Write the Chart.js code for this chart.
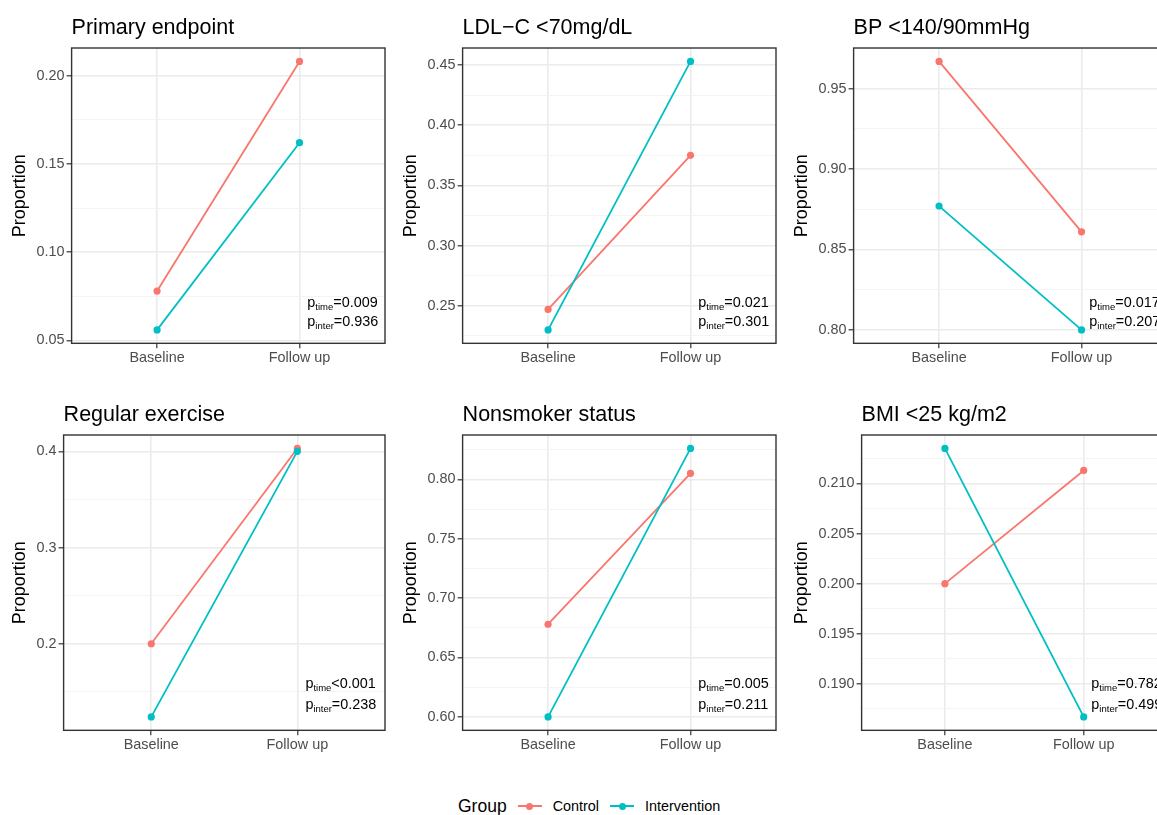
<!DOCTYPE html>
<html>
<head>
<meta charset="utf-8">
<script src="https://cdn.jsdelivr.net/npm/chart.js@4.4.1/dist/chart.umd.min.js"></script>
<style>
body { margin: 0; background: #fff; overflow: hidden; }
#wrap { position: relative; width: 1157px; height: 815px; overflow: hidden; background: #fff; }
.cell { position: absolute; width: 391px; height: 387px; }
#legend { position: absolute; left: 458px; top: 796px; height: 20px; display: flex; align-items: center;
  font-family: 'Liberation Sans', Arial, sans-serif; color: #000; white-space: nowrap; }
#legend .ttl { font-size: 17.5px; }
#legend .lab { font-size: 14.4px; }
#legend .key { position: relative; display: inline-block; width: 24px; height: 10px; margin: 0 11px; }
#legend .key i { position: absolute; left: 0; right: 0; top: 4.1px; height: 1.8px; }
#legend .key b { position: absolute; left: 8.5px; top: 1.5px; width: 7px; height: 7px; border-radius: 50%; }
</style>
</head>
<body>
<div id="wrap">
  <div id="legend"></div>
</div>
<script>
// data
var groups = ['Control', 'Intervention'];
var groupColors = ['#F8766D', '#00BFC4'];
var timepoints = ['Baseline', 'Follow up'];
var panelTitles = ['Primary endpoint', 'LDL\u2212C <70mg/dL', 'BP <140/90mmHg',
                   'Regular exercise', 'Nonsmoker status', 'BMI <25 kg/m2'];
var controlValues = [[0.078, 0.208], [0.247, 0.375], [0.967, 0.861],
                     [0.200, 0.403], [0.678, 0.805], [0.200, 0.2113]];
var interventionValues = [[0.056, 0.162], [0.230, 0.453], [0.877, 0.800],
                          [0.124, 0.400], [0.600, 0.826], [0.2135, 0.1867]];
var yTicks = [[0.05, 0.10, 0.15, 0.20],
              [0.25, 0.30, 0.35, 0.40, 0.45],
              [0.80, 0.85, 0.90, 0.95],
              [0.2, 0.3, 0.4],
              [0.60, 0.65, 0.70, 0.75, 0.80],
              [0.190, 0.195, 0.200, 0.205, 0.210]];
var tickDigits = [2, 2, 2, 1, 2, 3];
var pTime = ['=0.009', '=0.021', '=0.017', '<0.001', '=0.005', '=0.782'];
var pInter = ['=0.936', '=0.301', '=0.207', '=0.238', '=0.211', '=0.499'];

var FONT = "'Liberation Sans', Arial, sans-serif";
Chart.defaults.font.family = FONT;

var panelDecor = {
    id: 'panelDecor',
    afterDatasetsDraw: function(chart) {
        var a = chart.chartArea;
        var ctx = chart.ctx;
        ctx.save();
        ctx.strokeStyle = '#333333';
        ctx.lineWidth = 1.4;
        ctx.strokeRect(a.left, a.top, a.right - a.left, a.bottom - a.top);
        ctx.restore();
    },
    afterDraw: function(chart, args, opts) {
        var a = chart.chartArea;
        var ctx = chart.ctx;
        ctx.save();
        ctx.fillStyle = '#000';
        ctx.textBaseline = 'alphabetic';
        ctx.textAlign = 'left';
        ctx.font = '21.5px ' + FONT;
        ctx.fillText(opts.title, a.left, a.top - 14.5);

        var x = chart.scales.x.getPixelForValue(2.055);
        drawNote(ctx, x, a.bottom - opts.noteOffset[0], 'time', opts.pTime);
        drawNote(ctx, x, a.bottom - opts.noteOffset[1], 'inter', opts.pInter);
        ctx.restore();
    }
};

function drawNote(ctx, x, y, sub, rest) {
    ctx.font = '14.4px ' + FONT;
    ctx.fillText('p', x, y);
    var w = ctx.measureText('p').width;
    ctx.font = '9.5px ' + FONT;
    ctx.fillText(sub, x + w, y + 3);
    var w2 = ctx.measureText(sub).width;
    ctx.font = '14.4px ' + FONT;
    ctx.fillText(rest, x + w + w2, y);
}

function makePanel(i) {
    var col = i % 3, row = Math.floor(i / 3);
    var cell = document.createElement('div');
    cell.className = 'cell';
    cell.style.left = (col * 391) + 'px';
    cell.style.top = (row * 387) + 'px';
    var canvas = document.createElement('canvas');
    canvas.width = 391;
    canvas.height = 387;
    cell.appendChild(canvas);
    document.getElementById('wrap').appendChild(cell);

    var ctrl = controlValues[i];
    var intv = interventionValues[i];
    var all = ctrl.concat(intv);
    var lo = Math.min.apply(null, all);
    var hi = Math.max.apply(null, all);
    var pad = (hi - lo) * 0.05;
    var ymin = lo - pad, ymax = hi + pad;

    var majors = yTicks[i];
    var half = (majors[1] - majors[0]) / 2;
    var tickList = [{ value: majors[0] - half, isMajor: false }];
    for (var k = 0; k < majors.length; k++) {
        tickList.push({ value: majors[k], isMajor: true });
        tickList.push({ value: majors[k] + half, isMajor: false });
    }
    tickList = tickList.filter(function(t) { return t.value >= ymin && t.value <= ymax; });

    function series(vals) {
        return vals.map(function(v, k) { return { x: k + 1, y: v }; });
    }

    new Chart(canvas.getContext('2d'), {
        type: 'line',
        data: {
            datasets: [{
                label: groups[0],
                data: series(ctrl),
                borderColor: groupColors[0],
                backgroundColor: groupColors[0],
                borderWidth: 1.8,
                pointRadius: 3.6,
                pointBorderWidth: 0,
                order: 2
            }, {
                label: groups[1],
                data: series(intv),
                borderColor: groupColors[1],
                backgroundColor: groupColors[1],
                borderWidth: 1.8,
                pointRadius: 3.6,
                pointBorderWidth: 0,
                order: 1
            }]
        },
        options: {
            responsive: false,
            animation: false,
            layout: { padding: { top: 48, left: 5, right: 6, bottom: 19.4 } },
            plugins: {
                legend: { display: false },
                tooltip: { enabled: false },
                panelDecor: {
                    title: panelTitles[i],
                    pTime: pTime[i],
                    pInter: pInter[i],
                    noteOffset: row === 0 ? [36, 17.6] : [42.5, 21.7]
                }
            },
            scales: {
                x: {
                    type: 'linear',
                    min: 0.4,
                    max: 2.6,
                    bounds: 'data',
                    afterBuildTicks: function(s) {
                        s.ticks = timepoints.map(function(t, k) { return { value: k + 1 }; });
                    },
                    ticks: {
                        autoSkip: false,
                        maxRotation: 0,
                        padding: 1,
                        color: '#4D4D4D',
                        font: { size: 14.4 },
                        callback: function(v) { return timepoints[Math.round(v) - 1]; }
                    },
                    grid: { color: '#EBEBEB', lineWidth: 1.6, tickLength: 5, tickColor: '#333333', tickWidth: 1.2 },
                    border: { display: false }
                },
                y: {
                    type: 'linear',
                    min: ymin,
                    max: ymax,
                    bounds: 'data',
                    afterBuildTicks: function(s) {
                        s.ticks = tickList.map(function(t) { return { value: t.value, isMajor: t.isMajor }; });
                    },
                    ticks: {
                        autoSkip: false,
                        padding: 2,
                        color: '#4D4D4D',
                        font: { size: 14.4 },
                        callback: function(v, idx, ticks) {
                            return ticks[idx].isMajor ? v.toFixed(tickDigits[i]) : '';
                        }
                    },
                    grid: {
                        color: function(c) { return c.tick && c.tick.isMajor ? '#EBEBEB' : '#F3F3F3'; },
                        lineWidth: function(c) { return c.tick && c.tick.isMajor ? 1.6 : 0.9; },
                        tickLength: 5,
                        tickWidth: 1.2,
                        tickColor: function(c) { return c.tick && c.tick.isMajor ? '#333333' : 'rgba(0,0,0,0)'; }
                    },
                    border: { display: false },
                    title: {
                        display: true,
                        text: 'Proportion',
                        color: '#000',
                        font: { size: 18 },
                        padding: { top: 4, bottom: 4 }
                    }
                }
            }
        },
        plugins: [panelDecor]
    });
}

for (var p = 0; p < panelTitles.length; p++) {
    makePanel(p);
}

// legend
var legend = document.getElementById('legend');
var html = '<span class="ttl">Group</span>';
for (var g = 0; g < groups.length; g++) {
    html += '<span class="key"><i style="background:' + groupColors[g] + '"></i>' +
            '<b style="background:' + groupColors[g] + '"></b></span>' +
            '<span class="lab">' + groups[g] + '</span>';
}
legend.innerHTML = html;
</script>
</body>
</html>
